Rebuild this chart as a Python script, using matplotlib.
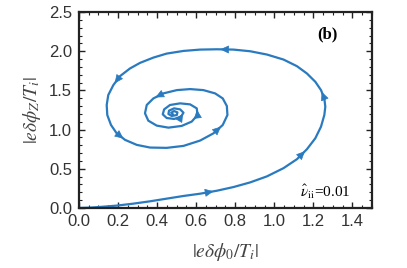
import matplotlib.pyplot as plt
from matplotlib.ticker import MultipleLocator

# trajectory
x = [0.0, 0.056, 0.108, 0.193, 0.278, 0.364, 0.449, 0.535, 0.620, 0.706,
     0.791, 0.876, 0.962, 1.047, 1.116, 1.167, 1.210, 1.239, 1.256, 1.261,
     1.256, 1.239, 1.210, 1.167, 1.116, 1.047, 0.962, 0.876, 0.791, 0.706,
     0.620, 0.535, 0.449, 0.381, 0.313, 0.261, 0.210, 0.176, 0.150, 0.142,
     0.145, 0.164, 0.193, 0.236, 0.296, 0.364, 0.449, 0.535, 0.620, 0.689,
     0.736, 0.760, 0.757, 0.736, 0.697, 0.637, 0.569, 0.501, 0.432, 0.381,
     0.347, 0.338, 0.355, 0.398, 0.458, 0.526, 0.577, 0.607, 0.603, 0.569,
     0.518, 0.466, 0.436, 0.429, 0.449, 0.487, 0.523, 0.535, 0.518, 0.487,
     0.461, 0.458, 0.475, 0.501, 0.504, 0.487, 0.472, 0.480]
y = [0.0, 0.004, 0.013, 0.030, 0.055, 0.085, 0.119, 0.153, 0.182, 0.220,
     0.267, 0.326, 0.403, 0.508, 0.623, 0.750, 0.890, 1.038, 1.186, 1.292,
     1.398, 1.504, 1.610, 1.716, 1.809, 1.894, 1.958, 2.000, 2.021, 2.025,
     2.021, 2.004, 1.970, 1.919, 1.852, 1.780, 1.682, 1.568, 1.441, 1.314,
     1.186, 1.059, 0.953, 0.869, 0.805, 0.771, 0.767, 0.792, 0.860, 0.953,
     1.059, 1.186, 1.301, 1.398, 1.462, 1.504, 1.517, 1.504, 1.462, 1.398,
     1.314, 1.208, 1.114, 1.051, 1.025, 1.047, 1.102, 1.186, 1.271, 1.322,
     1.335, 1.314, 1.258, 1.195, 1.148, 1.136, 1.165, 1.216, 1.258, 1.271,
     1.242, 1.199, 1.174, 1.186, 1.220, 1.237, 1.216, 1.199]

# segments carrying a direction arrow
arrow_idx = [8, 14, 20, 28, 36, 42, 49, 58, 67, 76]

col = '#2a7abf'

plt.rcParams['mathtext.fontset'] = 'stix'

fig = plt.figure(figsize=(4.07, 2.68), dpi=100)
ax = fig.add_axes([0.194, 0.224, 0.72, 0.731])

ax.plot(x, y, color=col, lw=1.6, solid_capstyle='round', solid_joinstyle='round')

for i in arrow_idx:
    xm = (x[i] + x[i + 1]) / 2
    ym = (y[i] + y[i + 1]) / 2
    dx = x[i + 1] - x[i]
    dy = y[i + 1] - y[i]
    ax.annotate('', xy=(xm + 0.3 * dx, ym + 0.3 * dy),
                xytext=(xm - 0.3 * dx, ym - 0.3 * dy),
                arrowprops=dict(arrowstyle='-|>,head_length=0.6,head_width=0.28',
                                color=col, lw=0.5, mutation_scale=9,
                                shrinkA=0, shrinkB=0))

ax.set_xlim(0, 1.5)
ax.set_ylim(0, 2.5)
ax.xaxis.set_major_locator(MultipleLocator(0.2))
ax.xaxis.set_minor_locator(MultipleLocator(0.05))
ax.yaxis.set_major_locator(MultipleLocator(0.5))
ax.yaxis.set_minor_locator(MultipleLocator(0.1))
ax.tick_params(which='both', direction='in', top=True, right=True, color='#222222')
ax.tick_params(which='major', length=4, width=1, labelsize=12, labelcolor='#333333')
ax.tick_params(axis='x', which='major', pad=4)
ax.tick_params(axis='y', which='major', pad=5)
ax.tick_params(which='minor', length=2.2, width=0.8)
for lab in ax.get_xticklabels() + ax.get_yticklabels():
    lab.set_family('Liberation Sans')
for s in ax.spines.values():
    s.set_linewidth(1.6)
    s.set_color('#222222')

ax.set_xlabel(r'$|e\delta\phi_0/T_i|$', fontsize=14, color='#444444', labelpad=9)
ax.set_ylabel(r'$|e\delta\phi_Z/T_i|$', fontsize=14, color='#444444', labelpad=4)

ax.text(1.27, 2.22, '(b)', fontsize=12, fontweight='bold', family='Liberation Serif',
        ha='center', va='center')
ax.text(1.26, 0.21, r'$\hat{\nu}_{\rm ii}$=0.01', fontsize=11, family='Liberation Serif',
        ha='center', va='center')

fig.savefig('out.png', dpi=100)
